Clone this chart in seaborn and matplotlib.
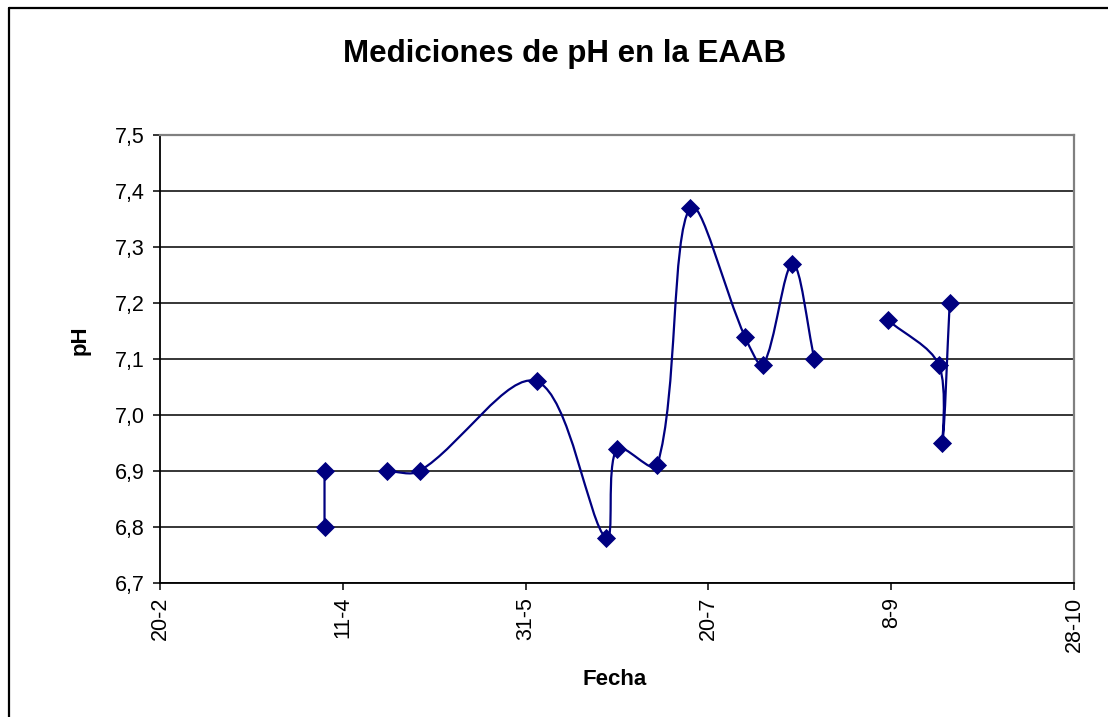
import numpy as np
import pandas as pd
import matplotlib
matplotlib.use('Agg')
import matplotlib.pyplot as plt
import matplotlib.dates as mdates
from matplotlib.path import Path
from matplotlib.patches import PathPatch
from matplotlib.lines import Line2D
from matplotlib.ticker import FuncFormatter, FixedLocator
import seaborn as sns

# Datos (fecha de medicion y pH)
fechas = ['2007-04-06', '2007-04-06', '2007-04-23', '2007-05-02', '2007-06-03',
          '2007-06-22', '2007-06-25', '2007-07-06', '2007-07-15', '2007-07-30',
          '2007-08-04', '2007-08-12', '2007-08-18',
          '2007-09-07', '2007-09-21', '2007-09-22', '2007-09-24']
ph = [6.80, 6.90, 6.90, 6.90, 7.06,
      6.78, 6.94, 6.91, 7.37, 7.14,
      7.09, 7.27, 7.10,
      7.17, 7.09, 6.95, 7.20]
# la linea se corta donde hay celdas vacias
tramo = [1, 1, 2, 2, 2, 2, 2, 2, 2, 2, 2, 2, 2, 3, 3, 3, 3]

inicio_eje = '2007-02-20'
fin_eje = '2007-10-28'
paso_dias = 50
y_min, y_max, y_paso = 6.7, 7.5, 0.1

df = pd.DataFrame({'fecha': pd.to_datetime(fechas), 'ph': ph, 'tramo': tramo})
df['x'] = mdates.date2num(df['fecha'])

azul = '#000080'

sns.set_style('white')
plt.rcParams['font.family'] = ['Liberation Sans', 'DejaVu Sans']
plt.rcParams['text.color'] = 'black'
plt.rcParams['axes.labelcolor'] = 'black'
plt.rcParams['xtick.color'] = 'black'
plt.rcParams['ytick.color'] = 'black'

fig = plt.figure(figsize=(11.08, 7.17), dpi=100)
ax = fig.add_axes([160 / 1108, 1 - 583 / 717, 914 / 1108, 448 / 717])

x0 = mdates.date2num(pd.Timestamp(inicio_eje))
x1 = mdates.date2num(pd.Timestamp(fin_eje))
ax.set_xlim(x0, x1)
ax.set_ylim(y_min, y_max)


def curva_suave(x, y, t=1 / 3):
    # bezier tipo Excel, calculada en pixeles y devuelta a coordenadas de datos
    p = ax.transData.transform(np.column_stack([x, y]))
    n = len(p)
    verts = [p[0]]
    codes = [Path.MOVETO]
    entrada, salida = [], []
    for i in range(n):
        a = p[max(i - 1, 0)]
        b = p[min(i + 1, n - 1)]
        d0 = np.hypot(*(p[i] - a))
        d1 = np.hypot(*(b - p[i]))
        tot = d0 + d1 if d0 + d1 > 0 else 1
        entrada.append(p[i] - t * d0 / tot * (b - a))
        salida.append(p[i] + t * d1 / tot * (b - a))
    for i in range(n - 1):
        verts += [salida[i], entrada[i + 1], p[i + 1]]
        codes += [Path.CURVE4] * 3
    verts = ax.transData.inverted().transform(np.array(verts))
    return Path(verts, codes)


for _, g in df.groupby('tramo'):
    ax.add_patch(PathPatch(curva_suave(g['x'].values, g['ph'].values),
                           facecolor='none', edgecolor=azul, lw=1.6, zorder=3))

sns.scatterplot(data=df, x='x', y='ph', marker='D', color=azul, s=95,
                edgecolor=azul, linewidth=0, ax=ax, zorder=4, legend=False)

ax.set_xlim(x0, x1)
ax.set_ylim(y_min, y_max)

xticks = np.arange(x0, x1 + 1, paso_dias)
ax.xaxis.set_major_locator(FixedLocator(xticks))
ax.xaxis.set_major_formatter(FuncFormatter(
    lambda v, pos: f"{mdates.num2date(v).day}-{mdates.num2date(v).month}"))
ax.set_yticks(np.round(np.arange(y_min, y_max + 0.001, y_paso), 1))
ax.yaxis.set_major_formatter(FuncFormatter(lambda v, pos: f"{v:.1f}".replace('.', ',')))

ax.tick_params(axis='both', direction='out', length=5, width=1.1, color='black',
               labelsize=15.5, labelcolor='black')
ax.tick_params(axis='x', labelrotation=90, pad=5)
ax.tick_params(axis='y', pad=6)
ax.tick_params(left=True, bottom=True)

ax.grid(axis='y', color='black', lw=1.1)
ax.grid(axis='x', visible=False)
ax.set_axisbelow(True)

for lado in ['left', 'bottom']:
    ax.spines[lado].set_color('black')
    ax.spines[lado].set_linewidth(1.3)
for lado in ['top', 'right']:
    ax.spines[lado].set_color('#808080')
    ax.spines[lado].set_linewidth(1.6)

ax.set_xlabel('Fecha', fontsize=16, fontweight='bold')
ax.set_ylabel('pH', fontsize=16, fontweight='bold')
ax.xaxis.set_label_coords((615 - 160) / 914, (583 - 669) / 448)
ax.yaxis.set_label_coords((91 - 160) / 914, (583 - 340) / 448)

fig.text(565 / 1108, 1 - 54 / 717, 'Mediciones de pH en la EAAB', fontsize=22.5,
         fontweight='bold', ha='center', va='center')

# marco exterior del grafico (solo se ven borde izquierdo y superior)
fig.add_artist(Line2D([9 / 1108, 9 / 1108], [0, 1 - 8 / 717], transform=fig.transFigure,
                      color='black', lw=1.6))
fig.add_artist(Line2D([9 / 1108, 1], [1 - 8 / 717, 1 - 8 / 717], transform=fig.transFigure,
                      color='black', lw=1.6))

plt.savefig('out.png', dpi=100, facecolor='white')
